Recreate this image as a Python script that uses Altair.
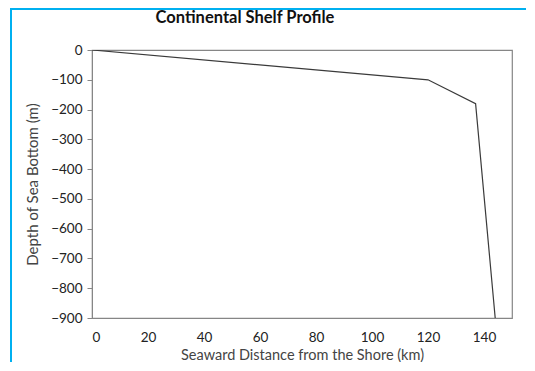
import altair as alt
import pandas as pd

distance_km = [0, 120, 137, 144]
depth_m = [0, -100, -180, -900]
y_ticks = [0, -100, -200, -300, -400, -500, -600, -700, -800, -900]
x_ticks = [0, 20, 40, 60, 80, 100, 120, 140]
chart_title = ["Continental Shelf Profile"]

df = pd.DataFrame({"distance": distance_km, "depth": depth_m})

FONT = "Lato"
GRAY = "#868686"

line = alt.Chart(df).mark_line(color="#3a3a3a", strokeWidth=1.2, clip=True).encode(
    x=alt.X("distance:Q",
            scale=alt.Scale(domain=[0, 150], nice=False, zero=False),
            axis=alt.Axis(values=x_ticks, title="Seaward Distance from the Shore (km)",
                          grid=False, domain=False, ticks=False, labelPadding=12,
                          labelFontSize=13.5, labelColor="#222222", labelFont=FONT,
                          titleFont=FONT, titleFontSize=14.5, titleFontWeight="normal",
                          titleColor="#444444", titleBaseline="alphabetic", titleY=41)),
    y=alt.Y("depth:Q",
            scale=alt.Scale(domain=[-900, 0], nice=False, zero=False),
            axis=alt.Axis(values=y_ticks, title="Depth of Sea Bottom  (m)",
                          grid=False, domain=True, domainColor=GRAY, ticks=True,
                          tickSize=5, tickColor=GRAY, labelPadding=5,
                          labelFontSize=13.5, labelColor="#222222", labelFont=FONT,
                          titleFont=FONT, titleFontSize=15, titleFontWeight="normal",
                          titleColor="#444444", titlePadding=10)),
    order=alt.Order("distance:Q"),
)

title_df = pd.DataFrame({"t": chart_title})
title = alt.Chart(title_df).mark_text(font=FONT, fontSize=16.5, fontWeight="bold",
                                      color="#111111", align="center", baseline="middle").encode(
    text="t:N", x=alt.value(153), y=alt.value(-32))

border_v = alt.Chart(df).mark_rule(color="#00B0F0", strokeWidth=2).encode(
    x=alt.value(-81), y=alt.value(-42), y2=alt.value(340))
border_h = alt.Chart(df).mark_rule(color="#00B0F0", strokeWidth=2).encode(
    x=alt.value(-82), x2=alt.value(460), y=alt.value(-41))

chart = alt.layer(border_v, border_h, line, title).properties(
    width=420, height=268,
    autosize=alt.AutoSizeParams(type="none"),
    padding={"left": 84, "top": 42, "right": 14, "bottom": 44},
).configure_view(stroke=GRAY, strokeWidth=1.2)

chart.save("out.html", embed_options={"renderer": "svg", "actions": False})
